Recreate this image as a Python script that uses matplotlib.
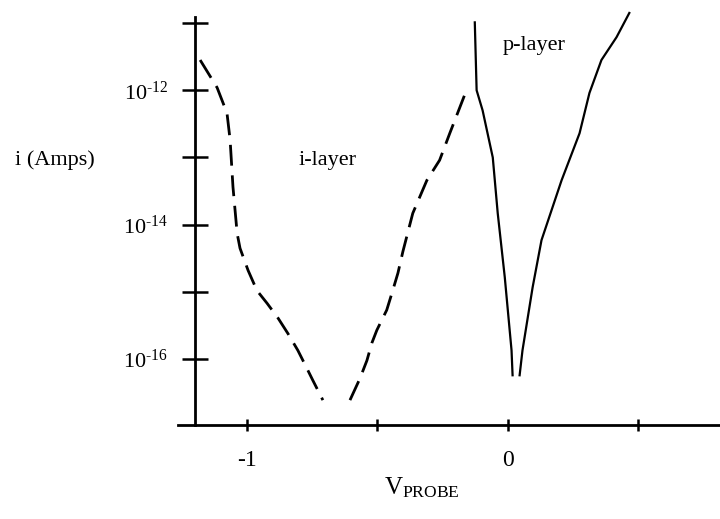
import numpy as np
import matplotlib
matplotlib.use("Agg")
import matplotlib.pyplot as plt

# (V_probe in volts, log10 of current in amps)
v_i_layer = [-1.180, -1.115, -1.077, -1.065, -1.054, -1.038, -1.027, -0.996, -0.962,
             -0.923, -0.881, -0.843, -0.805, -0.770, -0.747, -0.709]
logi_i_layer = [-11.55, -11.96, -12.34, -12.74, -13.44, -14.13, -14.35, -14.68, -14.98,
                -15.17, -15.39, -15.62, -15.87, -16.14, -16.32, -16.61]
v_i_layer2 = [-0.605, -0.567, -0.540, -0.521, -0.502, -0.464, -0.441, -0.421, -0.402,
              -0.364, -0.310, -0.261, -0.222, -0.165]
logi_i_layer2 = [-16.61, -16.29, -16.02, -15.76, -15.57, -15.27, -14.98, -14.72, -14.40,
                 -13.83, -13.34, -13.04, -12.64, -12.07]

v_p_left = [-0.126, -0.119, -0.096, -0.057, -0.038, -0.011, 0.015, 0.019]
logi_p_left = [-10.99, -12.00, -12.30, -13.00, -13.83, -14.78, -15.87, -16.24]
v_p_right = [0.046, 0.057, 0.096, 0.130, 0.207, 0.276, 0.314, 0.360, 0.418, 0.467]
logi_p_right = [-16.24, -15.87, -14.93, -14.23, -13.34, -12.64, -12.04, -11.55, -11.21, -10.85]

ytick_exp = [-11, -12, -13, -14, -15, -16]
ytick_labels = ['', r'10$^{\text{-12}}$', '', r'10$^{\text{-14}}$', '', r'10$^{\text{-16}}$']
xtick_vals = [-1, -0.5, 0, 0.5]
xtick_labels = ['-1', '', '0', '']

plt.rcParams['font.family'] = ['Liberation Serif', 'DejaVu Serif']
plt.rcParams['mathtext.fontset'] = 'custom'
plt.rcParams['mathtext.rm'] = 'Liberation Serif'
plt.rcParams['mathtext.it'] = 'Liberation Serif'
plt.rcParams['mathtext.default'] = 'regular'

W, H = 720, 519
fig = plt.figure(figsize=(W / 100, H / 100), dpi=100)
ax = fig.add_axes([178 / W, (H - 425) / H, 1 - 178 / W, (425 - 17) / H])

dash = (0, (7.5, 3.5))
ax.plot(v_i_layer, 10 ** np.array(logi_i_layer), color='black', lw=2, linestyle=dash,
        dash_joinstyle='round')
ax.plot(v_i_layer2, 10 ** np.array(logi_i_layer2), color='black', lw=2, linestyle=dash,
        dash_joinstyle='round')
ax.plot(v_p_left, 10 ** np.array(logi_p_left), color='black', lw=1.6, clip_on=False,
        solid_joinstyle='round')
ax.plot(v_p_right, 10 ** np.array(logi_p_right), color='black', lw=1.6, clip_on=False,
        solid_joinstyle='round')

ax.set_yscale('log')
ax.set_xlim(-1.265, 0.815)
ax.set_ylim(10 ** -16.98, 10 ** -10.91)

for s in ['top', 'right']:
    ax.spines[s].set_visible(False)
ax.spines['left'].set_position(('data', -1.2))
ax.spines['left'].set_linewidth(2)
ax.spines['bottom'].set_linewidth(2)

ax.set_yticks([10.0 ** e for e in ytick_exp])
ax.set_yticklabels(ytick_labels)
ax.yaxis.set_minor_locator(matplotlib.ticker.NullLocator())
ax.tick_params(axis='y', direction='inout', length=19, width=1.8, pad=10, labelsize=16)
ax.set_xticks(xtick_vals)
ax.set_xticklabels(xtick_labels)
ax.tick_params(axis='x', direction='inout', length=8, width=1.8, pad=14, labelsize=17)

ax.text(-0.693, 10 ** -13.04, 'i-layer', ha='center', va='center', fontsize=16)
ax.text(0.103, 10 ** -11.33, 'p-layer', ha='center', va='center', fontsize=16)

fig.text(55 / W, 1 - 160 / H, 'i (Amps)', ha='center', va='center', fontsize=16)
fig.text(422 / W, 1 - 488 / H, r'V$_{\mathrm{PROBE}}$', ha='center', va='center', fontsize=18)

fig.savefig('out.png', dpi=100)
